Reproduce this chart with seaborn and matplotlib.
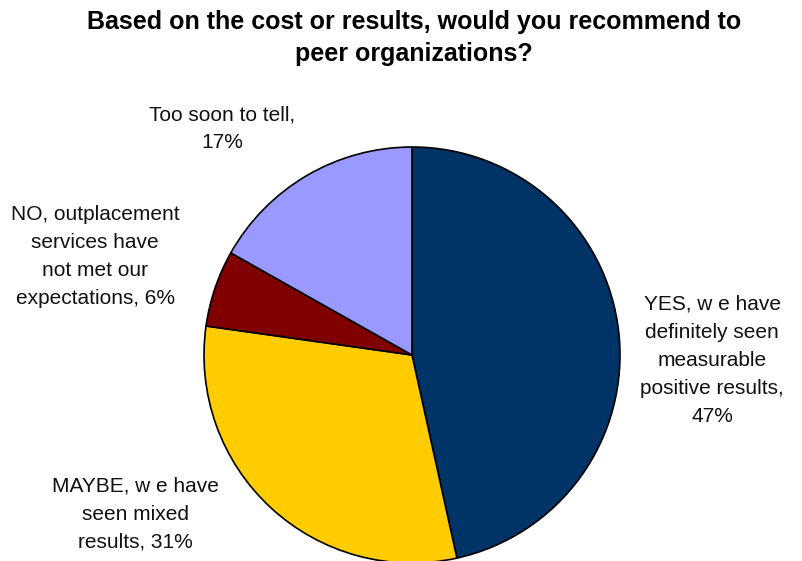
import matplotlib
matplotlib.use("Agg")
import matplotlib.pyplot as plt
import seaborn as sns

sns.set_theme(style="white")
plt.rcParams["font.family"] = ["Liberation Sans", "DejaVu Sans"]

# Survey answers, clockwise from 12 o'clock
categories = [
    "YES, w e have\ndefinitely seen\nmeasurable\npositive results,",
    "MAYBE, w e have\nseen mixed\nresults,",
    "NO, outplacement\nservices have\nnot met our\nexpectations,",
    "Too soon to tell,",
]
shares = [47, 31, 6, 17]
colors = ["#003366", "#FFCC00", "#800000", "#9999FF"]
title = "Based on the cost or results, would you recommend to\npeer organizations?"

W, H = 802, 561
fig = plt.figure(figsize=(W / 100, H / 100), dpi=100)
fig.patch.set_facecolor("white")

cx, cy, r = 412, 355, 208
ax = fig.add_axes([(cx - r) / W, (H - cy - r) / H, 2 * r / W, 2 * r / H])
ax.pie(shares, colors=colors, startangle=90, counterclock=False,
       wedgeprops=dict(edgecolor="black", linewidth=1.2))
ax.set_xlim(-1, 1)
ax.set_ylim(-1, 1)
ax.set_aspect("equal")
ax.axis("off")

# label anchor points in pixels (centre of each text block)
label_px = [(712, 360), (135, 514), (95, 256), (222, 129)]
joiners = ["\n", " ", " ", "\n"]
for name, val, (px, py), j in zip(categories, shares, label_px, joiners):
    fig.text(px / W, 1 - py / H, f"{name}{j}{val}%", ha="center", va="center",
             fontsize=15, color="#111111", linespacing=1.6)

fig.text(414 / W, 1 - 38 / H, title, ha="center", va="center",
         fontsize=18, fontweight="bold", color="black", linespacing=1.45)

fig.savefig("out.png", dpi=100, facecolor="white")
